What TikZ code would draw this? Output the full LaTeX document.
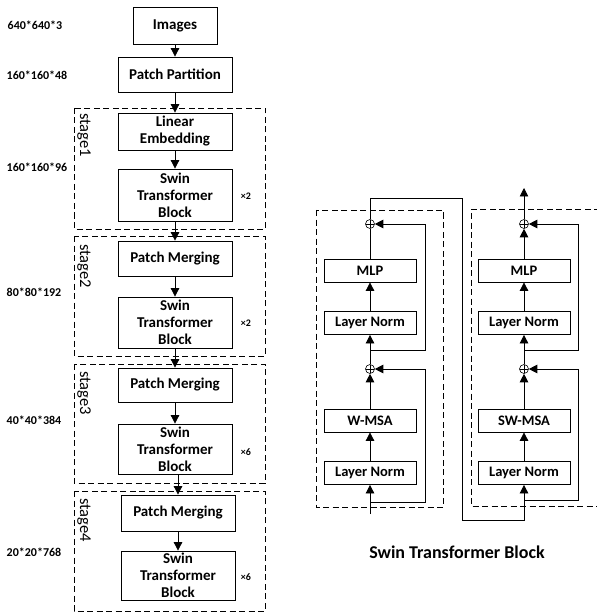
\documentclass[tikz,border=0pt]{standalone}
\usepackage{fontspec}
\setmainfont{Carlito}
\usetikzlibrary{arrows.meta}
\tikzset{
  box/.style={draw, line width=0.8pt, align=center, inner sep=0pt, font=\bfseries\fontsize{15}{17}\selectfont},
  rbox/.style={draw, line width=0.8pt, align=center, inner sep=0pt, minimum width=92pt, minimum height=23pt, font=\bfseries\fontsize{14.5}{17}\selectfont},
  dimlab/.style={font=\bfseries\fontsize{12}{14}\selectfont},
  times/.style={font=\bfseries\fontsize{10}{12}\selectfont},
  stagebox/.style={draw, line width=0.8pt, dash pattern=on 6pt off 3.5pt},
  stagelab/.style={rotate=-90, anchor=west, font=\fontsize{16.5}{18}\selectfont, inner sep=0pt},
  arr/.style={line width=0.8pt, -{Triangle[width=8.5pt,length=8.5pt]}},
  ln/.style={line width=0.8pt},
  plus/.style={circle, draw, line width=0.6pt, minimum size=9pt, inner sep=0pt, path picture={\draw[line width=0.6pt] (path picture bounding box.north) -- (path picture bounding box.south) (path picture bounding box.west) -- (path picture bounding box.east);}},
}
\begin{document}
\begin{tikzpicture}[x=1pt,y=-1pt]
\useasboundingbox (0,0) rectangle (596,612);
% left column boxes
\node[box, minimum width=84pt, minimum height=37pt] (img) at (175,25.5) {Images};
\node[box, minimum width=114pt, minimum height=35pt] (pp) at (175,74.5) {Patch Partition};
\node[box, minimum width=114pt, minimum height=37pt] (le) at (175,131.5) {Linear\\Embedding};
\node[box, minimum width=114pt, minimum height=52pt] (sw1) at (175,195) {Swin\\Transformer\\Block};
\node[box, minimum width=114pt, minimum height=35pt] (pm2) at (175,258.5) {Patch Merging};
\node[box, minimum width=114pt, minimum height=51pt] (sw2) at (175,322.5) {Swin\\Transformer\\Block};
\node[box, minimum width=114pt, minimum height=34pt] (pm3) at (175,385) {Patch Merging};
\node[box, minimum width=114pt, minimum height=50pt] (sw3) at (175,449) {Swin\\Transformer\\Block};
\node[box, minimum width=114pt, minimum height=36pt] (pm4) at (178,513) {Patch Merging};
\node[box, minimum width=114pt, minimum height=49pt] (sw4) at (178,575.5) {Swin\\Transformer\\Block};
% stage boxes
\draw[stagebox] (74,108) rectangle (265,229);
\draw[stagebox] (74,236) rectangle (265,356);
\draw[stagebox] (74,364) rectangle (265,483);
\draw[stagebox] (74,491) rectangle (265,611);
\node[stagelab] (st1) at (84,113) {stage1};
\node[stagelab] (st2) at (84,244) {stage2};
\node[stagelab] (st3) at (84,371) {stage3};
\node[stagelab] (st4) at (84,498) {stage4};
% dimension labels
\node[dimlab] (d1) at (35,25) {640*640*3};
\node[dimlab] (d2) at (37,75) {160*160*48};
\node[dimlab] (d3) at (37,167) {160*160*96};
\node[dimlab] (d4) at (34,292) {80*80*192};
\node[dimlab] (d5) at (34,420) {40*40*384};
\node[dimlab] (d6) at (34,552) {20*20*768};
\node[times] (x1) at (246,196) {×2};
\node[times] (x2) at (246,323) {×2};
\node[times] (x3) at (246,452) {×6};
\node[times] (x4) at (246,577) {×6};
% left arrows
\draw[arr] (img) -- (pp);
\draw[arr] (pp) -- (le);
\draw[arr] (le) -- (sw1);
\draw[arr] (sw1) -- (pm2);
\draw[arr] (pm2) -- (sw2);
\draw[arr] (sw2) -- (pm3);
\draw[arr] (pm3) -- (sw3);
\draw[arr] (sw3.south -| pm4.north) -- (pm4);
\draw[arr] (pm4) -- (sw4);

% right: block A (W-MSA)
\draw[stagebox] (316,210) rectangle (443,507);
\node[rbox] (mlpA) at (370,270.5) {MLP};
\node[rbox] (lnA2) at (370,323) {Layer Norm};
\node[rbox] (wmsa) at (370,420.5) {W-MSA};
\node[rbox] (lnA1) at (370,473) {Layer Norm};
\node[plus] (pA2) at (370,224) {};
\node[plus] (pA1) at (370,369) {};
\coordinate (inA) at (370,514);
\coordinate (bA1) at (370,502);
\coordinate (bA2) at (370,350);
\draw[arr] (inA) -- (lnA1);
\draw[arr] (lnA1) -- (wmsa);
\draw[arr] (wmsa) -- (pA1);
\draw[arr] (pA1) -- (lnA2);
\draw[arr] (lnA2) -- (mlpA);
\draw[ln] (mlpA) -- (pA2);
\draw[arr] (bA1) -- (425,502) -- (425,369) -- (pA1);
\draw[arr] (bA2) -- (425,350) -- (425,224) -- (pA2);

% right: block B (SW-MSA)
\draw[stagebox] (600,209) -- (471,209) -- (471,506) -- (600,506);
\node[rbox] (mlpB) at (524,270.5) {MLP};
\node[rbox] (lnB2) at (524,323) {Layer Norm};
\node[rbox] (swmsa) at (524,420.5) {SW-MSA};
\node[rbox] (lnB1) at (524,473) {Layer Norm};
\node[plus] (pB2) at (524,224) {};
\node[plus] (pB1) at (524,369) {};
\coordinate (outB) at (524,188);
\coordinate (bB1) at (524,500);
\coordinate (bB2) at (524,350);
\draw[arr] (pA2) -- (370,198) -- (462,198) -- (462,520) -- (524,520) -- (lnB1);
\draw[arr] (lnB1) -- (swmsa);
\draw[arr] (swmsa) -- (pB1);
\draw[arr] (pB1) -- (lnB2);
\draw[arr] (lnB2) -- (mlpB);
\draw[arr] (mlpB) -- (pB2);
\draw[arr] (pB2) -- (outB);
\draw[arr] (bB1) -- (578,500) -- (578,369) -- (pB1);
\draw[arr] (bB2) -- (578,350) -- (578,224) -- (pB2);

\node[font=\bfseries\fontsize{18}{21}\selectfont] (title) at (457,552) {Swin Transformer Block};
\end{tikzpicture}
\end{document}
